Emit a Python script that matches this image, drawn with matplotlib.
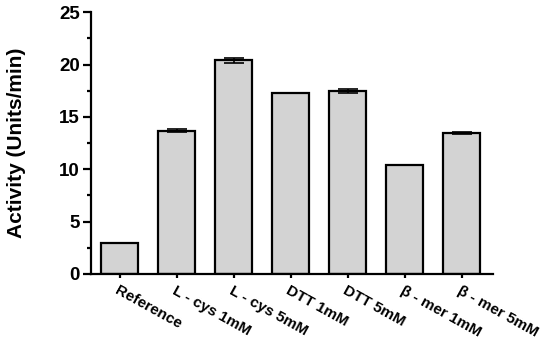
import matplotlib.pyplot as plt
from matplotlib.ticker import MultipleLocator

plt.rcParams['font.family'] = ['Liberation Sans', 'DejaVu Sans']
plt.rcParams['font.weight'] = 'bold'

labels = ['Reference', 'L - cys 1mM', 'L - cys 5mM', 'DTT 1mM', 'DTT 5mM',
          'β - mer 1mM', 'β - mer 5mM']
activity = [3.0, 13.7, 20.4, 17.3, 17.5, 10.4, 13.5]
errors = [0, 0.15, 0.25, 0, 0.2, 0, 0.1]

fig = plt.figure(figsize=(5.5, 3.42), dpi=100)
ax = fig.add_axes([0.1655, 0.199, 0.731, 0.765])

x = range(len(labels))
ax.bar(x, activity, width=0.64, color='#d3d3d3', edgecolor='black', linewidth=1.6, zorder=2)
ax.errorbar(x, activity, yerr=errors, fmt='none', ecolor='black', elinewidth=1.2,
            capsize=7, capthick=1.2, zorder=3)

ax.set_xlim(-0.5, 6.55)
ax.set_ylim(0, 25)
ax.yaxis.set_major_locator(MultipleLocator(5))
ax.yaxis.set_minor_locator(MultipleLocator(2.5))
ax.spines['top'].set_visible(False)
ax.spines['right'].set_visible(False)
ax.spines['left'].set_linewidth(1.6)
ax.spines['bottom'].set_linewidth(1.6)
ax.tick_params(axis='y', which='major', length=6, width=1.6, labelsize=13.5, pad=2)
ax.tick_params(axis='y', which='minor', length=3, width=1.6)
ax.tick_params(axis='x', which='major', length=3, width=1.6, labelsize=11, pad=4)

ax.set_xticks(list(x))
ax.set_xticklabels(labels, rotation=-29, ha='left', rotation_mode='anchor', fontweight='bold')
for t in ax.get_yticklabels():
    t.set_fontweight('bold')
ax.set_ylabel('Activity (Units/min)', fontsize=15, fontweight='bold', labelpad=24)

fig.savefig('out.png', dpi=100)
